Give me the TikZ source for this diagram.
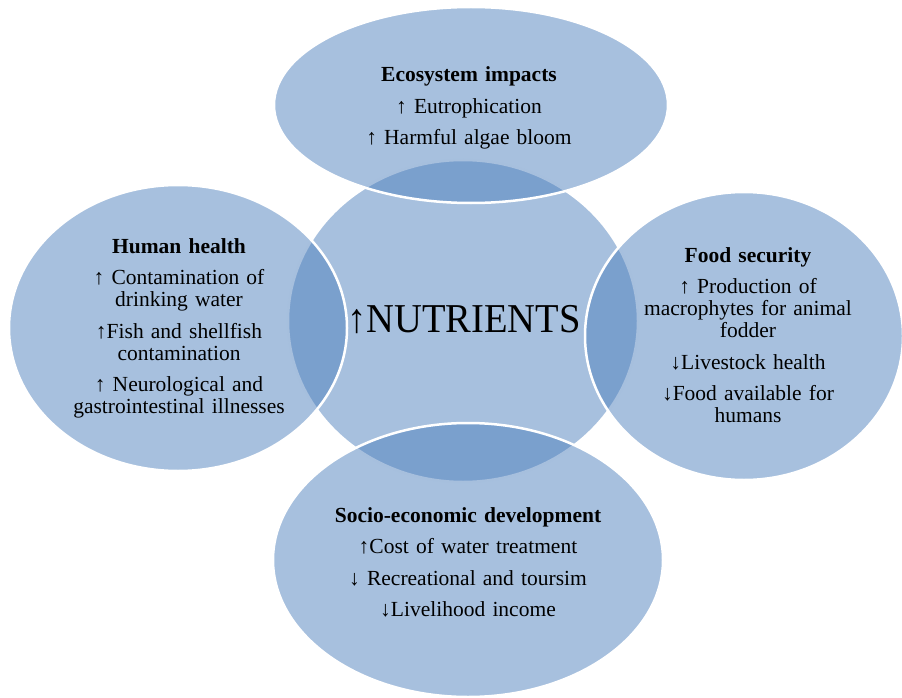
\documentclass[tikz,border=0pt]{standalone}
\usepackage{fontspec}
\usepackage{graphicx}
\setmainfont{Liberation Serif}
\usetikzlibrary{shapes.geometric}
\definecolor{venn}{RGB}{79,129,189}
\tikzset{
  blob/.style={ellipse, fill=venn, fill opacity=0.5, draw=white, line width=2.5pt, inner sep=0pt},
  txt/.style={text width=330pt, align=center, inner sep=0pt, anchor=base,
              font=\fontsize{21.5}{22}\selectfont, text=black},
}
\newcommand{\psep}{\\[9.5pt]}
\begin{document}
\begin{tikzpicture}[x=1pt,y=-1pt]
\useasboundingbox (0,0) rectangle (902,698);
% shapes
\node[blob, minimum width=350pt, minimum height=322pt] (center) at (463,321) {};
\node[blob, minimum width=394pt, minimum height=196pt] (top) at (471,105) {};
\node[blob, minimum width=338pt, minimum height=286pt] (left) at (178,328) {};
\node[blob, minimum width=318pt, minimum height=288pt] (right) at (744,336) {};
\node[blob, minimum width=390pt, minimum height=274pt] (bottom) at (468,560) {};
% texts
\node[inner sep=0pt, anchor=base, font=\fontsize{41}{41}\selectfont] (nutr) at (464,332) {\scalebox{0.94}[1]{↑NUTRIENTS}};
\node[txt] (toptext) at (469,82) {\textbf{Ecosystem impacts}\psep ↑ Eutrophication\psep ↑ Harmful algae bloom};
\node[txt] (lefttext) at (179,253) {\textbf{Human health}\psep ↑ Contamination of\\ drinking water\psep ↑Fish and shellfish\\ contamination\psep ↑ Neurological and\\ gastrointestinal illnesses};
\node[txt] (righttext) at (748,262) {\textbf{Food security}\psep ↑ Production of\\ macrophytes for animal\\ fodder\psep ↓Livestock health\psep ↓Food available for\\ humans};
\node[txt] (bottomtext) at (468,522) {\textbf{Socio-economic development}\psep ↑Cost of water treatment\psep ↓ Recreational and toursim\psep ↓Livelihood income};
\end{tikzpicture}
\end{document}
